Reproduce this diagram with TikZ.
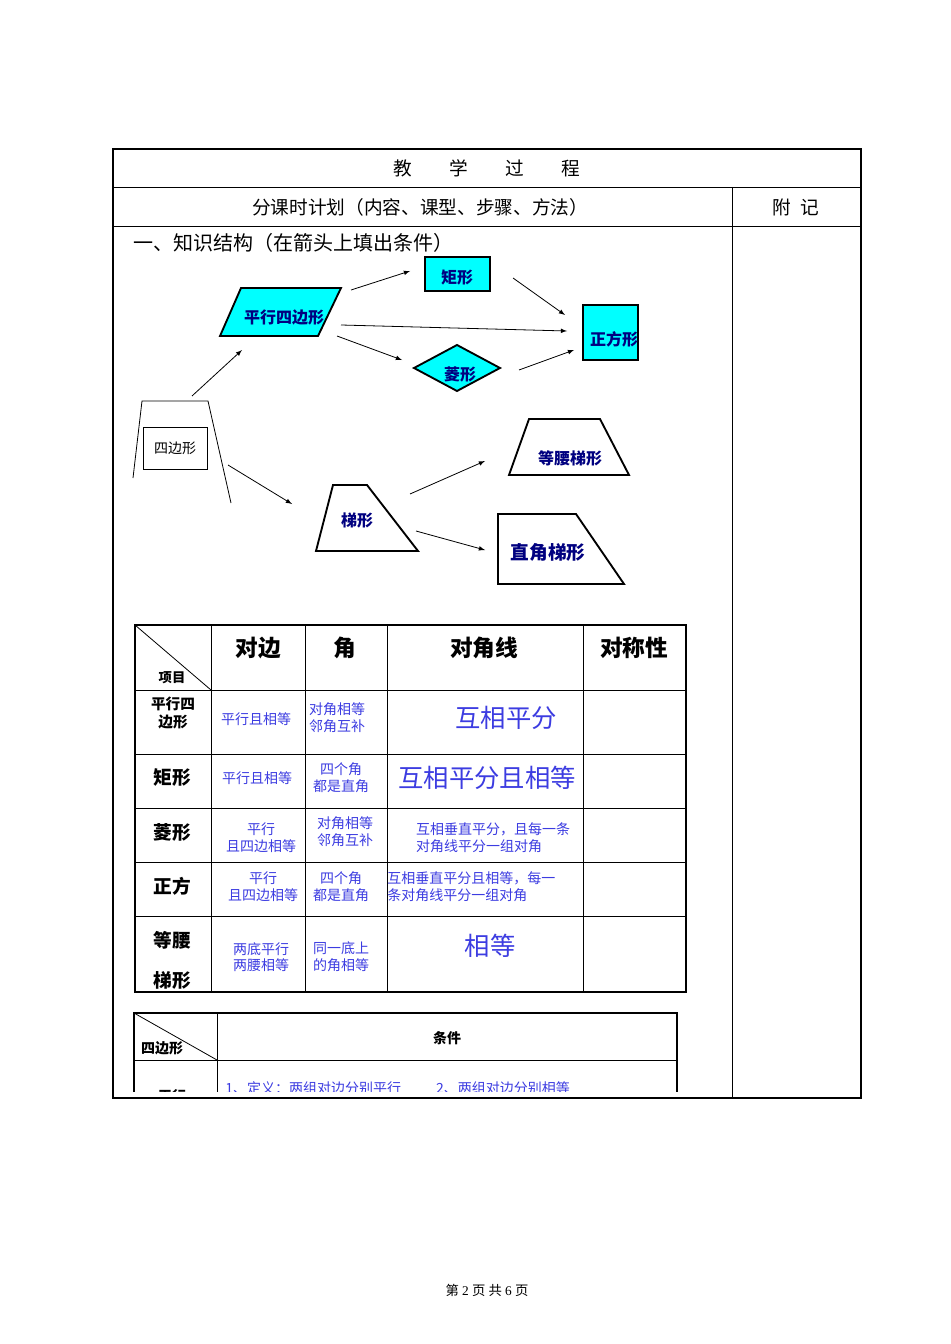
\documentclass[tikz,border=0pt]{standalone}
\usepackage{fontspec}
\setmainfont{Liberation Serif}
\newfontfamily\cjk{Noto Sans CJK SC}
\definecolor{cyn}{RGB}{0,255,255}
\definecolor{tb}{RGB}{60,60,225}
\begin{document}
\begin{tikzpicture}[x=0.75pt,y=-0.75pt,
  every node/.style={font=\cjk,inner sep=0pt,align=center},
  shp/.style={draw,line width=1.4pt},
  cy/.style={shp,fill=cyn},
  nav/.style={text=blue!50!black,font=\cjk\bfseries\fontsize{12}{14}\selectfont},
  arr/.style={-latex,line width=0.6pt},
  hd/.style={font=\cjk\bfseries\fontsize{17}{20}\selectfont},
  rh/.style={font=\cjk\bfseries\fontsize{14}{16}\selectfont},
  bt/.style={text=tb,font=\cjk\fontsize{10.5}{12.5}\selectfont},
  bb/.style={text=tb,font=\cjk\fontsize{19}{22}\selectfont},
  grid/.style={line width=0.6pt}]
\useasboundingbox (0,0) rectangle (950,1344);
\fill[white] (0,0) rectangle (950,1344);
% outer frame
\draw[line width=1.4pt] (113,149) rectangle (861,1098);
\draw[grid] (113,187) -- (861,187) (113,226) -- (861,226) (732,187) -- (732,1098);
\node[font=\cjk\fontsize{14}{16}\selectfont] (t1) at (487,168) {教\hspace{2em}学\hspace{2em}过\hspace{2em}程};
\node[font=\cjk\fontsize{14}{16}\selectfont] (t2) at (420,207) {分课时计划（内容、课型、步骤、方法）};
\node[font=\cjk\fontsize{14}{16}\selectfont] (t3) at (796,207) {附\hspace{0.5em}记};
\node[font=\cjk\fontsize{15}{17}\selectfont,anchor=west] (t4) at (133,243) {一、知识结构（在箭头上填出条件）};
% shapes
\draw[cy] (425,257) rectangle (490,291);
\node[nav] (jx) at (457,278) {矩形};
\draw[cy] (241,288) -- (341,288) -- (318,336) -- (220,336) -- cycle;
\node[nav] (px) at (284,317) {平行四边形};
\draw[cy] (583,305) rectangle (638,360);
\node[nav] (zf) at (614,339) {正方形};
\draw[cy] (414,368) -- (457,345) -- (500,368) -- (457,391) -- cycle;
\node[nav] (lx) at (460,374) {菱形};
\draw[line width=0.6pt] (133,478) -- (142,401) -- (208,401) -- (231,503);
\draw[line width=0.6pt] (143,427) rectangle (207,469);
\node[font=\cjk\fontsize{10.5}{12}\selectfont] (sb) at (175,448) {四边形};
\draw[shp] (333,485) -- (367,485) -- (418,551) -- (316,551) -- cycle;
\node[nav] (tx) at (357,520) {梯形};
\draw[shp] (529,419) -- (600,419) -- (629,475) -- (509,475) -- cycle;
\node[nav] (dy) at (570,458) {等腰梯形};
\draw[shp] (498,514) -- (576,514) -- (624,584) -- (498,584) -- cycle;
\node[nav,font=\cjk\bfseries\fontsize{14}{16}\selectfont] (zj) at (548,552) {直角梯形};
% arrows
\coordinate (a1) at (351,290); \coordinate (b1) at (410,271);
\coordinate (a2) at (513,278); \coordinate (b2) at (565,315);
\coordinate (a3) at (341,325); \coordinate (b3) at (567,331);
\coordinate (a4) at (337,336); \coordinate (b4) at (402,360);
\coordinate (a5) at (519,370); \coordinate (b5) at (574,350);
\coordinate (a6) at (192,396); \coordinate (b6) at (242,350);
\coordinate (a7) at (228,465); \coordinate (b7) at (292,504);
\coordinate (a8) at (410,494); \coordinate (b8) at (485,461);
\coordinate (a9) at (416,531); \coordinate (b9) at (485,550);
\foreach \i in {1,...,9} \draw[arr] (a\i) -- (b\i);
% table 1
\foreach \x in {211,305,387,583} \draw[grid] (\x,625) -- (\x,992);
\foreach \y in {690,754,808,862,916} \draw[grid] (135,\y) -- (686,\y);
\draw[line width=1.6pt] (135,625) rectangle (686,992);
\draw[grid] (135,625) -- (211,690);
\node[hd] (h1) at (258,648) {对边};
\node[hd] (h2) at (345,648) {角};
\node[hd] (h3) at (484,648) {对角线};
\node[hd] (h4) at (634,648) {对称性};
\node[font=\cjk\bfseries\fontsize{10}{12}\selectfont] (xm) at (172,678) {项目};
\node[font=\cjk\bfseries\fontsize{11}{13}\selectfont] (r1) at (173,713) {平行四\\边形};
\node[bt] (c11) at (256,719) {平行且相等};
\node[bt] (c12) at (337,718) {对角相等\\邻角互补};
\node[bb] (c13) at (506,718) {互相平分};
\node[rh] (r2) at (172,778) {矩形};
\node[bt] (c21) at (257,778) {平行且相等};
\node[bt] (c22) at (341,778) {四个角\\都是直角};
\node[bb] (c23) at (487,778) {互相平分且相等};
\node[rh] (r3) at (172,832) {菱形};
\node[bt] (c31) at (261,838) {平行\\且四边相等};
\node[bt] (c32) at (345,832) {对角相等\\邻角互补};
\node[bt,align=left] (c33) at (493,838) {互相垂直平分，且每一条\\对角线平分一组对角};
\node[rh] (r4) at (172,886) {正方};
\node[bt] (c41) at (263,887) {平行\\且四边相等};
\node[bt] (c42) at (341,887) {四个角\\都是直角};
\node[bt,align=left,anchor=west] (c43) at (387,887) {互相垂直平分且相等，每一\\条对角线平分一组对角};
\node[rh] (r5a) at (172,940) {等腰};
\node[rh] (r5b) at (172,980) {梯形};
\node[bt] (c51) at (261,957) {两底平行\\两腰相等};
\node[bt] (c52) at (341,957) {同一底上\\的角相等};
\node[bb] (c53) at (490,946) {相等};
% table 2 (clipped)
\begin{scope}
\clip (120,1005) rectangle (700,1091);
\draw[line width=1.4pt] (134,1013) rectangle (677,1200);
\draw[grid] (217,1013) -- (217,1200) (134,1060) -- (677,1060);
\draw[grid] (134,1013) -- (217,1060);
\node[font=\cjk\bfseries\fontsize{10.5}{12}\selectfont] (s2) at (162,1048) {四边形};
\node[font=\cjk\bfseries\fontsize{10.5}{12}\selectfont] (tj) at (447,1038) {条件};
\node[text=tb,font=\cjk\fontsize{10.5}{12}\selectfont,anchor=west] (d1) at (225,1088) {1、定义：两组对边分别平行\hspace{2.5em}2、两组对边分别相等};
\node[font=\cjk\bfseries\fontsize{10.5}{12}\selectfont] (pq) at (172,1096) {平行};
\end{scope}
\node[font=\fontsize{10}{12}\selectfont] (ft) at (487,1290) {{\cjk 第} 2 {\cjk 页 共} 6 {\cjk 页}};
\end{tikzpicture}
\end{document}
